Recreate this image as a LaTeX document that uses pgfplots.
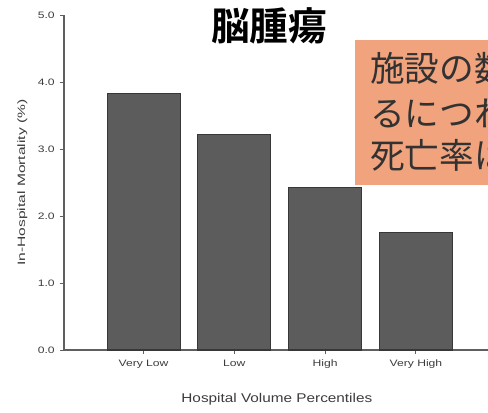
\documentclass[border=0pt]{standalone}
\usepackage{pgfplots}
\pgfplotsset{compat=1.18}
\usepackage{fontspec}
\usepackage{graphicx}
\setmainfont{Liberation Sans}
\newfontfamily\cjk{Noto Sans CJK JP}
\newfontfamily\cjkb{Noto Sans CJK JP Bold}
\definecolor{barfill}{RGB}{92,92,92}
\definecolor{baredge}{RGB}{55,55,55}
\definecolor{axgray}{RGB}{95,95,95}
\definecolor{txtgray}{RGB}{60,60,60}
\definecolor{boxorange}{RGB}{240,163,125}
\definecolor{boxtext}{RGB}{50,50,50}
\newcommand{\sx}[2]{\scalebox{#1}[1]{#2}}
\begin{document}
\begin{tikzpicture}
\useasboundingbox (-48pt,-46.5pt) rectangle (318pt,262.5pt);
\clip (-48pt,-46.5pt) rectangle (318pt,262.5pt);
\begin{axis}[
  at={(0pt,0pt)}, anchor=south west,
  scale only axis, width=318pt, height=251.25pt,
  xmin=-0.876, xmax=3.794, ymin=0, ymax=5,
  axis x line=bottom, axis y line=left,
  axis line style={-, draw=axgray, line width=0.9pt},
  xtick={0,1,2,3},
  xticklabels={\sx{1.3}{Very Low},\sx{1.3}{Low},\sx{1.3}{High},\sx{1.3}{Very High}},
  ytick={0,1,2,3,4,5},
  yticklabel={\sx{1.3}{\pgfmathprintnumber[fixed,fixed zerofill,precision=1]{\tick}}},
  yticklabel style={xshift=-0.5pt},
  /pgf/number format/assume math mode=true,
  tick style={draw=axgray, line width=0.7pt},
  tick align=outside, major tick length=3pt,
  ticklabel style={font=\fontsize{7}{8}\selectfont, text=txtgray},
  xticklabel style={yshift=-1pt},
  xlabel={\sx{1.21}{Hospital Volume Percentiles}},
  xlabel style={font=\fontsize{9.5}{10}\selectfont, text=txtgray, at={(axis description cs:0.502,-0.146)}, anchor=center},
  ylabel={\sx{1.46}{In-Hospital Mortality (\%)}},
  ylabel style={font=\fontsize{8}{9}\selectfont, text=txtgray, at={(axis description cs:-0.098,0.5)}, anchor=center},
  clip=false,
]
\addplot[ybar, bar width=54.75pt, bar shift=0pt, fill=barfill, draw=baredge, line width=0.8pt]
  coordinates {(0,3.83) (1,3.22) (2,2.42) (3,1.76)};
\end{axis}
\node[anchor=center, font={\cjkb\fontsize{29}{29}\selectfont}] at (153.75pt,243pt) {脳腫瘍};
\fill[boxorange] (218.25pt,123.75pt) rectangle (330pt,232.5pt);
\node[anchor=west, inner sep=0pt, text=boxtext, font={\cjk\fontsize{26}{26}\selectfont}] at (229.5pt,211.5pt) {施設の数が多くな};
\node[anchor=west, inner sep=0pt, text=boxtext, font={\cjk\fontsize{26}{26}\selectfont}] at (229.5pt,177.75pt) {るにつれて};
\node[anchor=west, inner sep=0pt, text=boxtext, font={\cjk\fontsize{26}{26}\selectfont}] at (229.5pt,146.25pt) {死亡率は低下};
\end{tikzpicture}
\end{document}
